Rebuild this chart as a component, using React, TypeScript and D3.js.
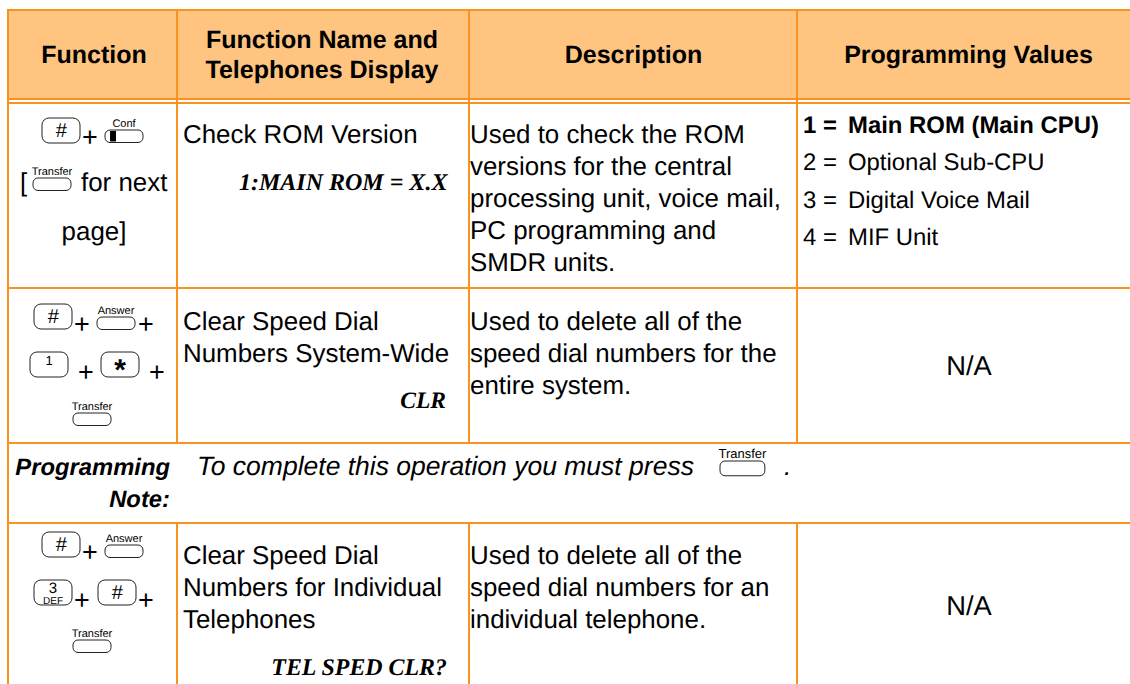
import React, { useEffect, useRef } from 'react';
import * as d3 from 'd3';

const headers = [['Function'], ['Function Name and', 'Telephones Display'], ['Description'], ['Programming Values']];
const names = [
  ['Check ROM Version'],
  ['Clear Speed Dial', 'Numbers System-Wide'],
  ['Clear Speed Dial', 'Numbers for Individual', 'Telephones'],
];
const displays = ['1:MAIN ROM = X.X', 'CLR', 'TEL SPED CLR?'];
const descriptions = [
  ['Used to check the ROM', 'versions for the central', 'processing unit, voice mail,', 'PC programming and', 'SMDR units.'],
  ['Used to delete all of the', 'speed dial numbers for the', 'entire system.'],
  ['Used to delete all of the', 'speed dial numbers for an', 'individual telephone.'],
];
const romNumbers = ['1 =', '2 =', '3 =', '4 ='];
const romValues = ['Main ROM (Main CPU)', 'Optional Sub-CPU', 'Digital Voice Mail', 'MIF Unit'];
const noteLabel = ['Programming', 'Note:'];
const noteText = 'To complete this operation you must press';

const ORANGE = '#f7931e';
const W = 1130;
const H = 684;
const SANS = '"Liberation Sans", Arial, sans-serif';
const SERIF = '"Liberation Serif", "Times New Roman", serif';

const App: React.FC = () => {
  const svgRef = useRef<SVGSVGElement>(null);

  useEffect(() => {
    if (!svgRef.current) return;
    const svg = d3.select(svgRef.current);
    svg.selectAll('*').remove();

    // column and row edges
    const colX = [8, 177, 469, 797, 1130];
    const rowY = [10, 99, 103, 288, 443, 523, 684];

    svg.append('rect').attr('x', 8).attr('y', 10).attr('width', W - 8).attr('height', 89).attr('fill', '#ffc480');

    const line = (x1: number, y1: number, x2: number, y2: number, w = 2) =>
      svg.append('line').attr('x1', x1).attr('y1', y1).attr('x2', x2).attr('y2', y2)
        .attr('stroke', ORANGE).attr('stroke-width', w);

    rowY.slice(0, 6).forEach(y => line(8, y, W, y));
    line(colX[0], 9, colX[0], H);
    colX.slice(1, 4).forEach(x => {
      line(x, 10, x, rowY[4]);
      line(x, rowY[5], x, H);
    });

    const text = (s: string, x: number, y: number, size: number, opts: any = {}) =>
      svg.append('text').attr('x', x).attr('y', y).text(s)
        .attr('font-family', opts.family || SANS).attr('font-size', size)
        .attr('font-weight', opts.weight || 'normal').attr('font-style', opts.style || 'normal')
        .attr('text-anchor', opts.anchor || 'start').attr('fill', '#000')
        .attr('text-rendering', 'geometricPrecision');

    // header
    const centers = [94, 322, 633.5, 968.5];
    headers.forEach((h, i) => {
      const base = h.length === 1 ? 63 : 48;
      h.forEach((s, j) => text(s, centers[i], base + j * 30, 25, { weight: 'bold', anchor: 'middle' }));
    });

    const bodySize = 25.9;
    const displayOpts = { family: SERIF, weight: 'bold', style: 'italic' };
    // function name column
    const nameBase = [143, 330, 563.5];
    names.forEach((n, i) => n.forEach((s, j) => text(s, 183, nameBase[i] + j * 32, bodySize)));
    text(displays[0], 239, 189.5, 24, displayOpts);
    text(displays[1], 446, 408, 23.5, { ...displayOpts, anchor: 'end' });
    text(displays[2], 447, 675, 23.9, { ...displayOpts, anchor: 'end' });

    // description column
    const descBase = [143, 330, 563.5];
    descriptions.forEach((d, i) => d.forEach((s, j) => text(s, 470, descBase[i] + j * 32, bodySize)));

    // programming values column
    romNumbers.forEach((s, i) => {
      const weight = i === 0 ? 'bold' : 'normal';
      text(s, 803, 133 + i * 37.4, 23.9, { weight });
      text(romValues[i], 848, 133 + i * 37.4, 23.9, { weight });
    });
    text('N/A', 969, 374.5, 27.3, { anchor: 'middle' });
    text('N/A', 969, 614.5, 27.3, { anchor: 'middle' });

    // programming note
    text(noteLabel[0], 170, 475, 23.8, { weight: 'bold', style: 'italic', anchor: 'end' });
    text(noteLabel[1], 170, 507, 23.8, { weight: 'bold', style: 'italic', anchor: 'end' });
    text(noteText, 197, 475, 26.5, { style: 'italic' });
    text('.', 784, 475, 26.5, { style: 'italic' });

    // telephone keys
    const bigKey = (x: number, y: number, label: string, opts: any = {}) => {
      svg.append('rect').attr('x', x).attr('y', y).attr('width', 38).attr('height', 25).attr('rx', 7)
        .attr('fill', '#fff').attr('stroke', '#222').attr('stroke-width', 1);
      text(label, x + 19, y + (opts.dy || 19), opts.size || 20, { anchor: 'middle', style: opts.style, weight: opts.weight });
    };
    const softKey = (x: number, y: number, label: string, k = 1) => {
      svg.append('rect').attr('x', x).attr('y', y).attr('width', 38 * k).attr('height', 12.5 * k).attr('rx', 5)
        .attr('fill', '#fff').attr('stroke', '#222').attr('stroke-width', 1);
      text(label, x + 19 * k, y - 3.5, 11 * k, { anchor: 'middle' });
    };
    const plus = (x: number, y: number) => text('+', x, y, 27, { anchor: 'middle' });

    bigKey(42, 118, '#', { style: 'italic' });
    plus(90, 146);
    softKey(105, 130, 'Conf');
    svg.append('rect').attr('x', 110).attr('y', 131).attr('width', 6).attr('height', 10.5).attr('fill', '#000');
    text('[', 20, 190.5, bodySize);
    softKey(33, 178, 'Transfer');
    text('for next', 81, 190.5, bodySize);
    text('page]', 94, 240, bodySize, { anchor: 'middle' });

    bigKey(34, 304, '#', { style: 'italic' });
    plus(82, 333);
    softKey(97, 317, 'Answer');
    plus(146, 333);
    bigKey(30, 352, '1', { dy: 13, size: 13 });
    plus(86, 381);
    bigKey(101, 352, '*', { dy: 28, size: 30, weight: 'bold' });
    plus(157, 381);
    softKey(73, 413, 'Transfer');

    bigKey(42, 532, '#', { style: 'italic' });
    plus(90, 561);
    softKey(105, 545, 'Answer');
    bigKey(34, 580, '3', { dy: 13, size: 15 });
    text('DEF', 53, 604, 10, { anchor: 'middle' });
    plus(82, 609);
    bigKey(98, 580, '#', { style: 'italic' });
    plus(146, 609);
    softKey(73, 640, 'Transfer');
    softKey(720, 461, 'Transfer', 1.18);
  }, []);

  return <svg ref={svgRef} width={W} height={H} viewBox={`0 0 ${W} ${H}`} style={{ position: 'absolute', left: 0, top: 0, background: '#fff' }} />;
};

export default App;
